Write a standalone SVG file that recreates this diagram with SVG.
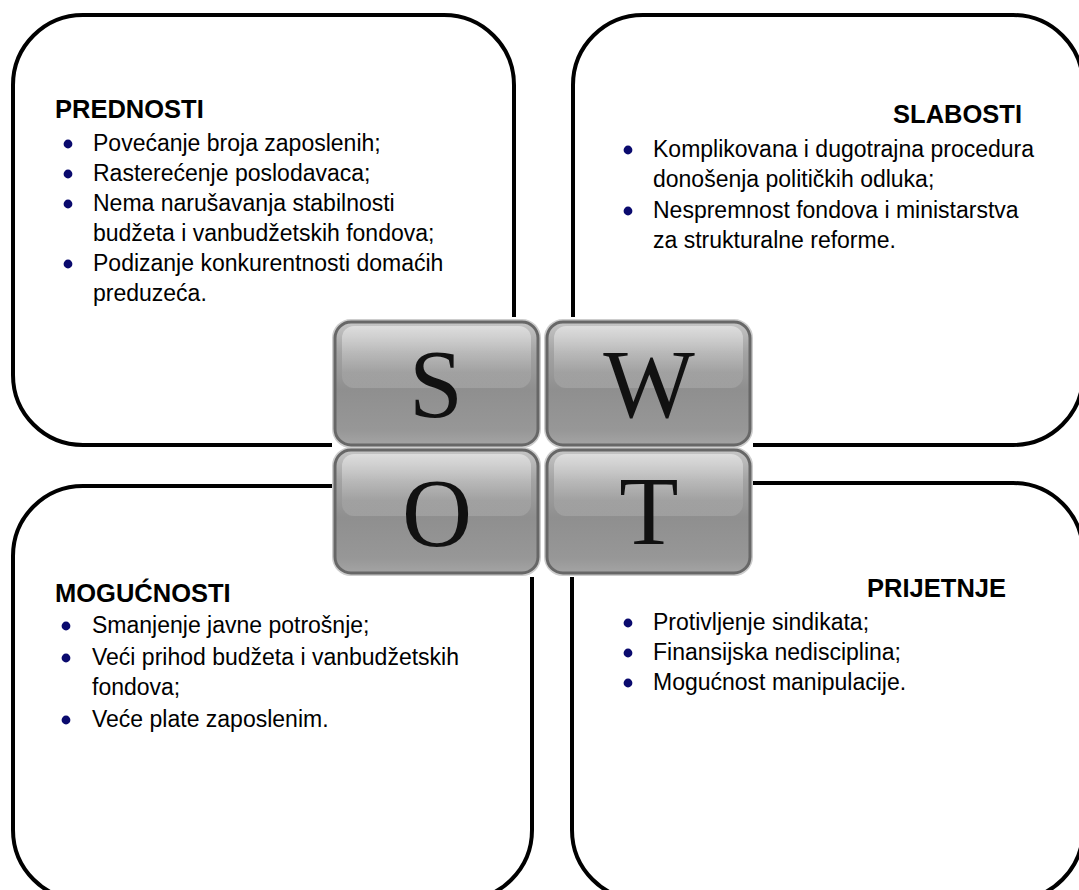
<svg xmlns="http://www.w3.org/2000/svg" xmlns:xlink="http://www.w3.org/1999/xlink" width="1079" height="890" viewBox="0 0 1079 890">
<style>
.box{fill:#fff;stroke:#000;stroke-width:4}
.h{font-family:"Liberation Sans",Arial,sans-serif;font-weight:bold;font-size:25.5px;fill:#000}
.t{font-family:"Liberation Sans",Arial,sans-serif;font-size:23px;fill:#000}
.b{fill:#0a0a6e}
.L{font-family:"Liberation Serif","Times New Roman",serif;font-size:97px;fill:#111;text-anchor:middle}
</style>
<defs>
<linearGradient id="tg" x1="0" y1="0" x2="0" y2="1">
<stop offset="0" stop-color="#c6c6c6"/>
<stop offset="0.25" stop-color="#a3a3a3"/>
<stop offset="0.55" stop-color="#8f8f8f"/>
<stop offset="0.88" stop-color="#979797"/>
<stop offset="1" stop-color="#a4a4a4"/>
</linearGradient>
<linearGradient id="hg" x1="0" y1="0" x2="0" y2="1">
<stop offset="0" stop-color="#fff" stop-opacity="0.45"/>
<stop offset="0.75" stop-color="#fff" stop-opacity="0.08"/>
<stop offset="1" stop-color="#fff" stop-opacity="0.14"/>
</linearGradient>
<g id="tile">
<rect x="0" y="0" width="203" height="123" rx="16" fill="none" stroke="#cdcdcd" stroke-width="6"/>
<rect x="0" y="0" width="203" height="123" rx="16" fill="url(#tg)" stroke="#676767" stroke-width="3"/>
<rect x="7" y="4" width="189" height="62" rx="12" fill="url(#hg)"/>
</g>
</defs>

<g id="strengths">
<rect class="box" x="13" y="15" width="501" height="430" rx="70"/>
<text class="h" x="55" y="118">PREDNOSTI</text>
<circle class="b" cx="68" cy="144" r="4.4"/>
<text class="t" x="93" y="151">Povećanje broja zaposlenih;</text>
<circle class="b" cx="68" cy="174" r="4.4"/>
<text class="t" x="93" y="181">Rasterećenje poslodavaca;</text>
<circle class="b" cx="68" cy="204" r="4.4"/>
<text class="t" x="93" y="211">Nema narušavanja stabilnosti</text>
<text class="t" x="93" y="241">budžeta i vanbudžetskih fondova;</text>
<circle class="b" cx="68" cy="264" r="4.4"/>
<text class="t" x="93" y="271">Podizanje konkurentnosti domaćih</text>
<text class="t" x="93" y="301">preduzeća.</text>
</g>

<g id="weaknesses">
<rect class="box" x="573" y="15" width="510" height="430" rx="70"/>
<text class="h" x="1022" y="123" text-anchor="end">SLABOSTI</text>
<circle class="b" cx="628" cy="150" r="4.4"/>
<text class="t" x="653" y="157">Komplikovana i dugotrajna procedura</text>
<text class="t" x="653" y="187">donošenja političkih odluka;</text>
<circle class="b" cx="628" cy="211" r="4.4"/>
<text class="t" x="653" y="218">Nespremnost fondova i ministarstva</text>
<text class="t" x="653" y="248">za strukturalne reforme.</text>
</g>

<g id="opportunities">
<rect class="box" x="13" y="486" width="519" height="414" rx="70"/>
<text class="h" x="55" y="602">MOGUĆNOSTI</text>
<circle class="b" cx="66" cy="626" r="4.4"/>
<text class="t" x="92" y="633">Smanjenje javne potrošnje;</text>
<circle class="b" cx="66" cy="658" r="4.4"/>
<text class="t" x="92" y="665">Veći prihod budžeta i vanbudžetskih</text>
<text class="t" x="92" y="695">fondova;</text>
<circle class="b" cx="66" cy="720" r="4.4"/>
<text class="t" x="92" y="727">Veće plate zaposlenim.</text>
</g>

<g id="threats">
<rect class="box" x="572" y="483" width="511" height="417" rx="70"/>
<text class="h" x="1006" y="597" text-anchor="end">PRIJETNJE</text>
<circle class="b" cx="628" cy="623" r="4.4"/>
<text class="t" x="653" y="630">Protivljenje sindikata;</text>
<circle class="b" cx="628" cy="653" r="4.4"/>
<text class="t" x="653" y="660">Finansijska nedisciplina;</text>
<circle class="b" cx="628" cy="683" r="4.4"/>
<text class="t" x="653" y="690">Mogućnost manipulacije.</text>
</g>

<g id="swot">
<rect x="332" y="317" width="421" height="260" fill="#fff"/>
<use xlink:href="#tile" x="335" y="322"/>
<use xlink:href="#tile" x="547" y="322"/>
<use xlink:href="#tile" x="335" y="450"/>
<use xlink:href="#tile" x="547" y="450"/>
<text class="L" x="436" y="417">S</text>
<text class="L" x="649" y="417">W</text>
<text class="L" x="437" y="546">O</text>
<text class="L" x="649" y="544">T</text>
</g>

<g id="connectors"/>
</svg>
